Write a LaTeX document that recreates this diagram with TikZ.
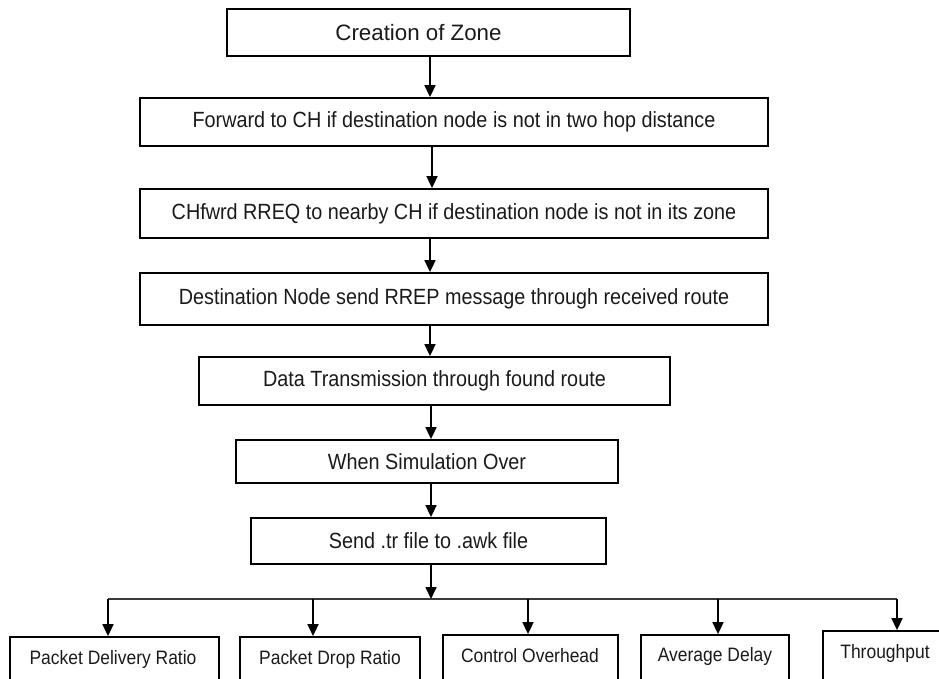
\documentclass[tikz,border=0pt]{standalone}
\usepackage{fontspec}
\setmainfont{Liberation Sans}[FakeStretch=0.9]
\newfontfamily\creafont{Liberation Sans}
\usetikzlibrary{arrows.meta}
\definecolor{txt}{HTML}{1A1A1A}
\definecolor{busc}{HTML}{3A3A3A}
\begin{document}
\begin{tikzpicture}[x=1pt,y=-1pt,
  box/.style={draw=black, line width=1.8pt, rectangle, inner sep=0pt, text=txt,
              font=\fontsize{22}{26}\selectfont},
  metric/.style={draw=black, line width=1.8pt, rectangle, inner sep=0pt},
  mtext/.style={inner sep=0pt, text=txt, font=\fontsize{19.4}{23}\selectfont},
  arr/.style={draw=black, line width=1.7pt, -{Triangle[width=11pt,length=12pt]}},
  bus/.style={draw=busc, line width=1.5pt}]
\useasboundingbox (0,0) rectangle (939,679);
\clip (0,0) rectangle (939,679);

% main column
\node[box, minimum width=403pt, minimum height=47pt,
      font=\creafont\fontsize{22.3}{26}\selectfont] (b1) at (428.5,32.5) {Creation of Zone\hspace*{20pt}};
\node[box, minimum width=628pt, minimum height=48pt] (b2) at (454,122)
  {Forward to CH if destination node is not in two hop distance};
\node[box, minimum width=628pt, minimum height=49pt] (b3) at (454,213.5)
  {CHfwrd RREQ to nearby CH if destination node is not in its zone};
\node[box, minimum width=628pt, minimum height=52pt] (b4) at (454,299)
  {Destination Node send RREP message through received route};
\node[box, minimum width=471pt, minimum height=48pt] (b5) at (434.5,381)
  {Data Transmission through found route};
\node[box, minimum width=382pt, minimum height=43pt] (b6) at (427,461.5)
  {When Simulation Over};
\node[box, minimum width=355pt, minimum height=46pt] (b7) at (428.5,541)
  {Send .tr file to .awk file};

% spine coordinates
\coordinate (s1) at (430,0);
\coordinate (s2) at (432,0);
\coordinate (s3) at (430,0);
\coordinate (s5) at (431,0);

\draw[arr] (b1.south -| s1) -- (b2.north -| s1);
\draw[arr] (b2.south -| s2) -- (b3.north -| s2);
\draw[arr] (b3.south -| s3) -- (b4.north -| s3);
\draw[arr] (b4.south -| s3) -- (b5.north -| s3);
\draw[arr] (b5.south -| s5) -- (b6.north -| s5);
\draw[arr] (b6.south -| s5) -- (b7.north -| s5);

% distribution bus
\coordinate (bc) at (431,599);
\coordinate (d1) at (108,599);
\coordinate (d2) at (313,599);
\coordinate (d3) at (528,599);
\coordinate (d4) at (718,599);
\coordinate (d5) at (897,599);
\draw[bus] (d1) -- (d5);
\draw[arr] (b7.south -| bc) -- (bc);

% metric boxes (cut by the lower edge)
\node[metric, minimum width=209pt, minimum height=63pt] (m1) at (114.5,668.5) {};
\node[metric, minimum width=180pt, minimum height=63pt] (m2) at (330,668.5) {};
\node[metric, minimum width=175pt, minimum height=65pt] (m3) at (530.5,667.5) {};
\node[metric, minimum width=148pt, minimum height=65pt] (m4) at (715,667.5) {};
\node[metric, minimum width=127pt, minimum height=69pt] (m5) at (886.5,665.5) {};

\node[mtext] (t1) at (113,659) {Packet Delivery Ratio};
\node[mtext] (t2) at (330,659) {Packet Drop Ratio};
\node[mtext] (t3) at (530,656) {Control Overhead};
\node[mtext] (t4) at (715,656) {Average Delay};
\node[mtext] (t5) at (885,653) {Throughput};

\draw[arr] (d1) -- (d1 |- m1.north);
\draw[arr] (d2) -- (d2 |- m2.north);
\draw[arr] (d3) -- (d3 |- m3.north);
\draw[arr] (d4) -- (d4 |- m4.north);
\draw[arr] (d5) -- (d5 |- m5.north);
\end{tikzpicture}
\end{document}
